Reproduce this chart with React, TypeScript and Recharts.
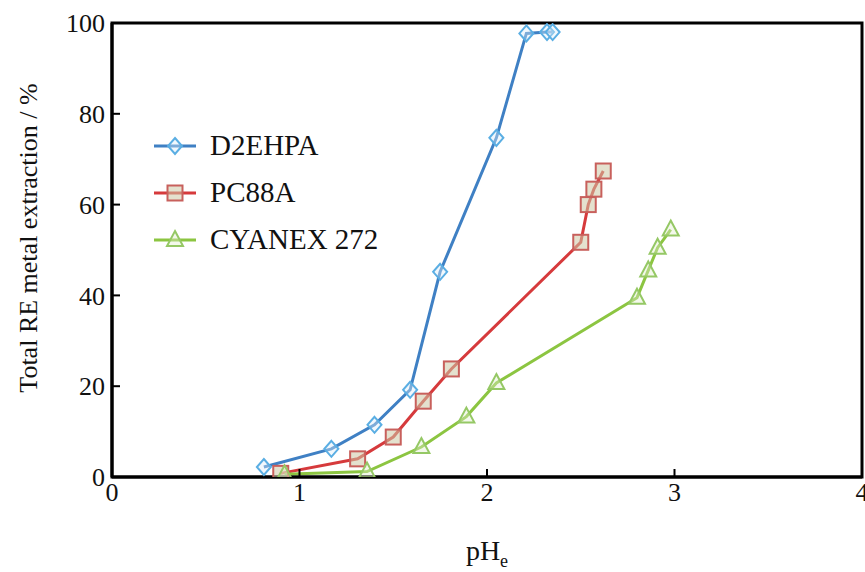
import React from 'react';
import { LineChart, Line, XAxis, YAxis, ReferenceArea, Legend, Label } from 'recharts';

// pH_e readings and total RE extraction (%) per extractant
const d2ehpaPH = [0.81, 1.17, 1.4, 1.59, 1.75, 2.05, 2.21, 2.32, 2.35];
const d2ehpaExt = [2.2, 6.2, 11.5, 19.2, 45.2, 74.7, 97.7, 98, 98];
const pc88aPH = [0.9, 1.31, 1.5, 1.66, 1.81, 2.5, 2.54, 2.57, 2.62];
const pc88aExt = [0.8, 4, 8.8, 16.7, 23.8, 51.7, 60, 63.4, 67.4];
const cyanexPH = [0.92, 1.36, 1.65, 1.89, 2.05, 2.8, 2.86, 2.91, 2.98];
const cyanexExt = [0.6, 1.2, 6.6, 13.3, 20.7, 39.5, 45.5, 50.5, 54.5];

const seriesNames = ['D2EHPA', 'PC88A', 'CYANEX 272'];
const seriesColors = ['#3f80c4', '#d63a3c', '#8cc541'];

const xTicks = [0, 1, 2, 3, 4];
const yTicks = [0, 20, 40, 60, 80, 100];

const FONT = '"Liberation Serif", "Times New Roman", serif';

const toPoints = (xs: number[], ys: number[]) => xs.map((x, i) => ({ x, y: ys[i] }));

const markers: Record<string, (cx: number, cy: number) => React.ReactElement> = {
  D2EHPA: (cx, cy) => (
    <path
      d={`M${cx},${cy - 8} L${cx + 7},${cy} L${cx},${cy + 8} L${cx - 7},${cy} Z`}
      fill="rgba(220,238,250,0.4)"
      stroke="#5aaee3"
      strokeWidth={2}
    />
  ),
  PC88A: (cx, cy) => (
    <rect
      x={cx - 7.5}
      y={cy - 7.5}
      width={15}
      height={15}
      fill="rgba(205,200,165,0.55)"
      stroke="#c8605c"
      strokeWidth={2}
    />
  ),
  'CYANEX 272': (cx, cy) => (
    <path
      d={`M${cx},${cy - 9} L${cx + 8},${cy + 6} L${cx - 8},${cy + 6} Z`}
      fill="rgba(225,238,205,0.4)"
      stroke="#95c865"
      strokeWidth={2}
    />
  ),
};

const makeDot = (name: string) => (props: any) => {
  const { cx, cy, index } = props;
  if (cx == null || cy == null) return <g key={index} />;
  return <g key={`${name}-${index}`}>{markers[name](cx, cy)}</g>;
};

// fixed order, same as the series
const renderLegend = () => (
  <div style={{ fontFamily: FONT, fontSize: 29, color: '#111' }}>
    {seriesNames.map((name, i) => (
      <div key={name} style={{ display: 'flex', alignItems: 'center', height: 47 }}>
        <svg width={52} height={24} style={{ marginRight: 6 }}>
          <line x1={2} y1={12} x2={44} y2={12} stroke={seriesColors[i]} strokeWidth={3} />
          {markers[name](23, 12)}
        </svg>
        <span>{name}</span>
      </div>
    ))}
  </div>
);

const XLabel = (props: any) => {
  const { viewBox } = props;
  const cx = viewBox.x + viewBox.width / 2;
  return (
    <text x={cx} y={viewBox.y + 83} textAnchor="middle" fontFamily={FONT} fontSize={28} fill="#111">
      <tspan>pH</tspan>
      <tspan fontSize={18} dy={7}>e</tspan>
    </text>
  );
};

const YLabel = (props: any) => {
  const { viewBox } = props;
  const x = viewBox.x + 28;
  const y = viewBox.y + viewBox.height / 2 - 12;
  return (
    <text
      x={x}
      y={y}
      transform={`rotate(-90, ${x}, ${y})`}
      textAnchor="middle"
      dominantBaseline="central"
      fontFamily={FONT}
      fontSize={26}
      fill="#111"
    >
      Total RE metal extraction / %
    </text>
  );
};

export default function App() {
  const tickStyle = { fill: '#111', fontSize: 26, fontFamily: FONT };
  const series = [
    toPoints(d2ehpaPH, d2ehpaExt),
    toPoints(pc88aPH, pc88aExt),
    toPoints(cyanexPH, cyanexExt),
  ];
  return (
    <div style={{ position: 'absolute', left: 0, top: 0, background: '#fff' }}>
      <LineChart width={865} height={572} margin={{ top: 23, right: 3, bottom: 0, left: 0 }}>
        <XAxis
          type="number"
          dataKey="x"
          domain={[0, 4]}
          ticks={xTicks}
          allowDataOverflow
          height={95}
          tickSize={-8}
          tickMargin={14}
          axisLine={{ stroke: '#000', strokeWidth: 3 }}
          tickLine={{ stroke: '#000', strokeWidth: 2 }}
          tick={tickStyle}
          interval={0}
        >
          <Label content={<XLabel />} />
        </XAxis>
        <YAxis
          type="number"
          domain={[0, 100]}
          ticks={yTicks}
          allowDataOverflow
          width={112}
          tickSize={-8}
          tickMargin={15}
          axisLine={{ stroke: '#000', strokeWidth: 3 }}
          tickLine={{ stroke: '#000', strokeWidth: 2 }}
          tick={tickStyle}
          interval={0}
        >
          <Label content={<YLabel />} />
        </YAxis>
        <ReferenceArea x1={0} x2={4} y1={0} y2={100} fill="none" stroke="#000" strokeWidth={3} />
        {seriesNames.map((name, i) => (
          <Line
            key={name}
            name={name}
            data={series[i]}
            dataKey="y"
            type="linear"
            stroke={seriesColors[i]}
            strokeWidth={3}
            dot={makeDot(name)}
            isAnimationActive={false}
          />
        ))}
        <Legend
          layout="vertical"
          align="center"
          verticalAlign="middle"
          content={renderLegend}
          wrapperStyle={{ left: 152, top: 122, width: 260 }}
        />
      </LineChart>
    </div>
  );
}
